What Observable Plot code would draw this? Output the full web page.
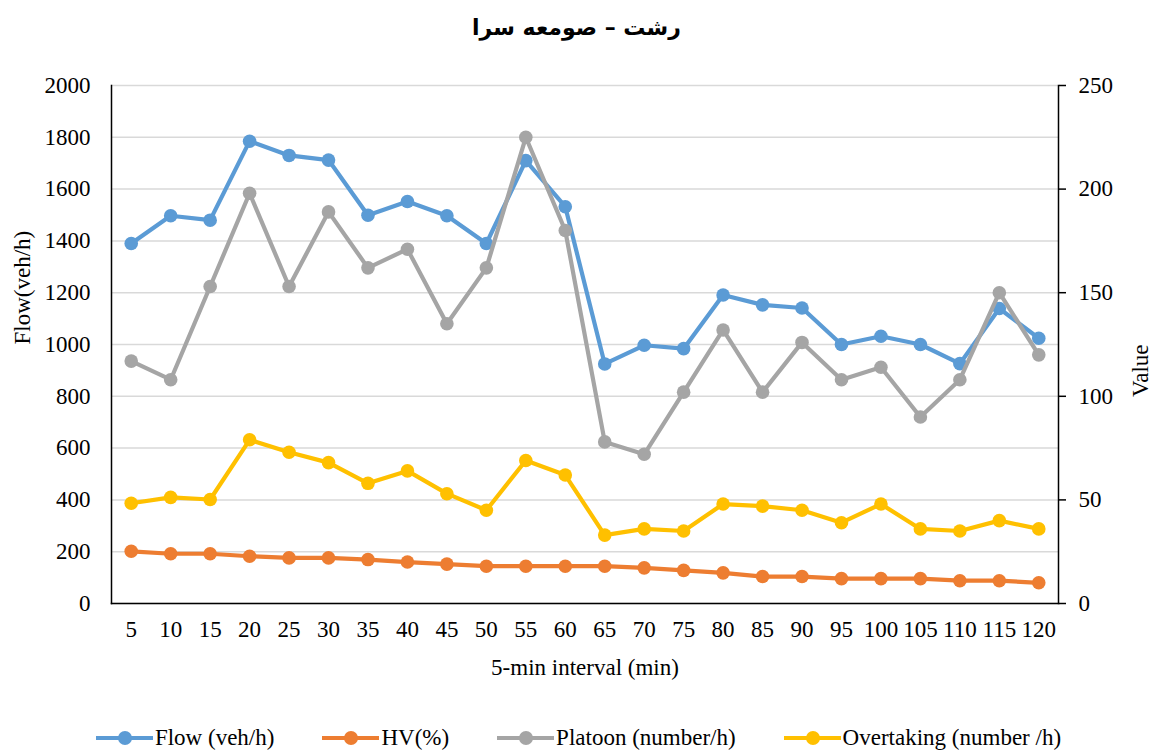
<!DOCTYPE html>
<html>
<head>
<meta charset="utf-8">
<script src="https://cdn.jsdelivr.net/npm/d3@7"></script>
<script src="https://cdn.jsdelivr.net/npm/@observablehq/plot@0.6"></script>
<style>
  body { margin: 0; background: #fff; width: 1153px; height: 751px; overflow: hidden; }
  #title { height: 55px; line-height: 56px; text-align: center; font-family: "DejaVu Sans", sans-serif; font-weight: bold; font-size: 22px; color: #000; }
  #legend { display: flex; justify-content: center; gap: 48px; margin-top: 30px; font-family: "Liberation Serif", serif; font-size: 23px; color: #000; padding-left: 4px; }
  .item { display: flex; align-items: center; }
  .sw { position: relative; width: 57px; height: 14px; margin-right: 2px; }
  .sw .ln { position: absolute; left: 0; right: 0; top: 5px; height: 4px; }
  .sw .pt { position: absolute; left: 22px; top: 0; width: 14px; height: 14px; border-radius: 50%; }
  #chart svg, #chart svg text { font-family: "Liberation Serif", serif !important; }
</style>
</head>
<body>
<div id="title" dir="rtl">رشت – صومعه سرا</div>
<div id="chart"></div>
<div id="legend"></div>
<script>
const intervals = [5,10,15,20,25,30,35,40,45,50,55,60,65,70,75,80,85,90,95,100,105,110,115,120];
const flow = [1390,1497,1480,1785,1730,1712,1499,1552,1497,1390,1710,1532,925,997,984,1191,1153,1141,1000,1032,1000,926,1139,1024];
const hv = [25.2,24,24,22.8,22,22,21.2,20,19,18,18,18,18,17.2,16,14.8,13,13,12,12,12,11,11,10];
const platoon = [117,108,153,198,153,189,162,171,135,162,225,180,78,72,102,132,102,126,108,114,90,108,150,120];
const overtaking = [48.4,51.2,50.2,79,73,68,58,64,53,45,69,62,33,36,35,48,47,45,39,48,36,35,40,36];
const seriesNames = ["Flow (veh/h)", "HV(%)", "Platoon (number/h)", "Overtaking (number /h)"];
const seriesColors = ["#5B9BD5", "#ED7D31", "#A5A5A5", "#FFC000"];
const leftTicks = [0,200,400,600,800,1000,1200,1400,1600,1800,2000];
const rightTicks = [0,50,100,150,200,250];
const leftMax = 2000, rightMax = 250;
const ratio = leftMax / rightMax;
const serif = "Liberation Serif";

const seriesData = [
  {name: seriesNames[0], values: flow, axis: "left"},
  {name: seriesNames[1], values: hv, axis: "right"},
  {name: seriesNames[2], values: platoon, axis: "right"},
  {name: seriesNames[3], values: overtaking, axis: "right"}
];

const seriesMarks = seriesData.flatMap(s => {
  const rows = s.values.map((v, i) => ({series: s.name, x: intervals[i], v, axis: s.axis}));
  const yAcc = d => d.axis === "left" ? d.v : d.v * ratio;
  return [
    Plot.line(rows, {x: "x", y: yAcc, stroke: "series", strokeWidth: 4.2, strokeLinejoin: "round", strokeLinecap: "round"}),
    Plot.dot(rows, {x: "x", y: yAcc, fill: "series", r: 6.8, stroke: "none"})
  ];
});

const chart = Plot.plot({
  width: 1153,
  height: 640,
  marginLeft: 111,
  marginRight: 95,
  marginTop: 30,
  marginBottom: 92,
  style: {fontFamily: serif, fontSize: "23px", color: "#000", background: "#fff"},
  x: {type: "point", domain: intervals, padding: 0.5, round: false, label: null},
  y: {domain: [0, leftMax], label: null},
  color: {domain: seriesNames, range: seriesColors},
  marks: [
    Plot.gridY(leftTicks, {stroke: "#D9D9D9", strokeOpacity: 1, strokeWidth: 1.5}),
    Plot.axisY(leftTicks, {anchor: "left", tickSize: 0, tickPadding: 21, label: null, tickFormat: d3.format("d"), fontFamily: serif}),
    Plot.axisY(rightTicks.map(v => v * ratio), {anchor: "right", tickFormat: d => String(d / ratio), tickSize: 7, tickPadding: 13, label: null, strokeWidth: 1.5, fontFamily: serif}),
    Plot.axisX(intervals, {tickSize: 0, tickPadding: 17, label: null, fontFamily: serif}),
    Plot.frame({anchor: "left", stroke: "#000", strokeWidth: 1.5}),
    Plot.frame({anchor: "right", stroke: "#000", strokeWidth: 1.5}),
    Plot.frame({anchor: "bottom", stroke: "#000", strokeWidth: 1.5}),
    Plot.text(["5-min interval (min)"], {frameAnchor: "bottom", dy: 71, fontSize: 23, fontFamily: serif}),
    Plot.text(["Flow(veh/h)"], {frameAnchor: "left", dx: -89, rotate: -90, fontSize: 23, fontFamily: serif}),
    Plot.text(["Value"], {frameAnchor: "right", dx: 82, rotate: -90, fontSize: 23, fontFamily: serif}),
    ...seriesMarks
  ]
});
document.getElementById("chart").appendChild(chart);

const legend = document.getElementById("legend");
seriesNames.forEach((n, i) => {
  const it = document.createElement("div");
  it.className = "item";
  it.innerHTML = `<span class="sw"><span class="ln" style="background:${seriesColors[i]}"></span><span class="pt" style="background:${seriesColors[i]}"></span></span><span>${n}</span>`;
  legend.appendChild(it);
});
</script>
</body>
</html>
